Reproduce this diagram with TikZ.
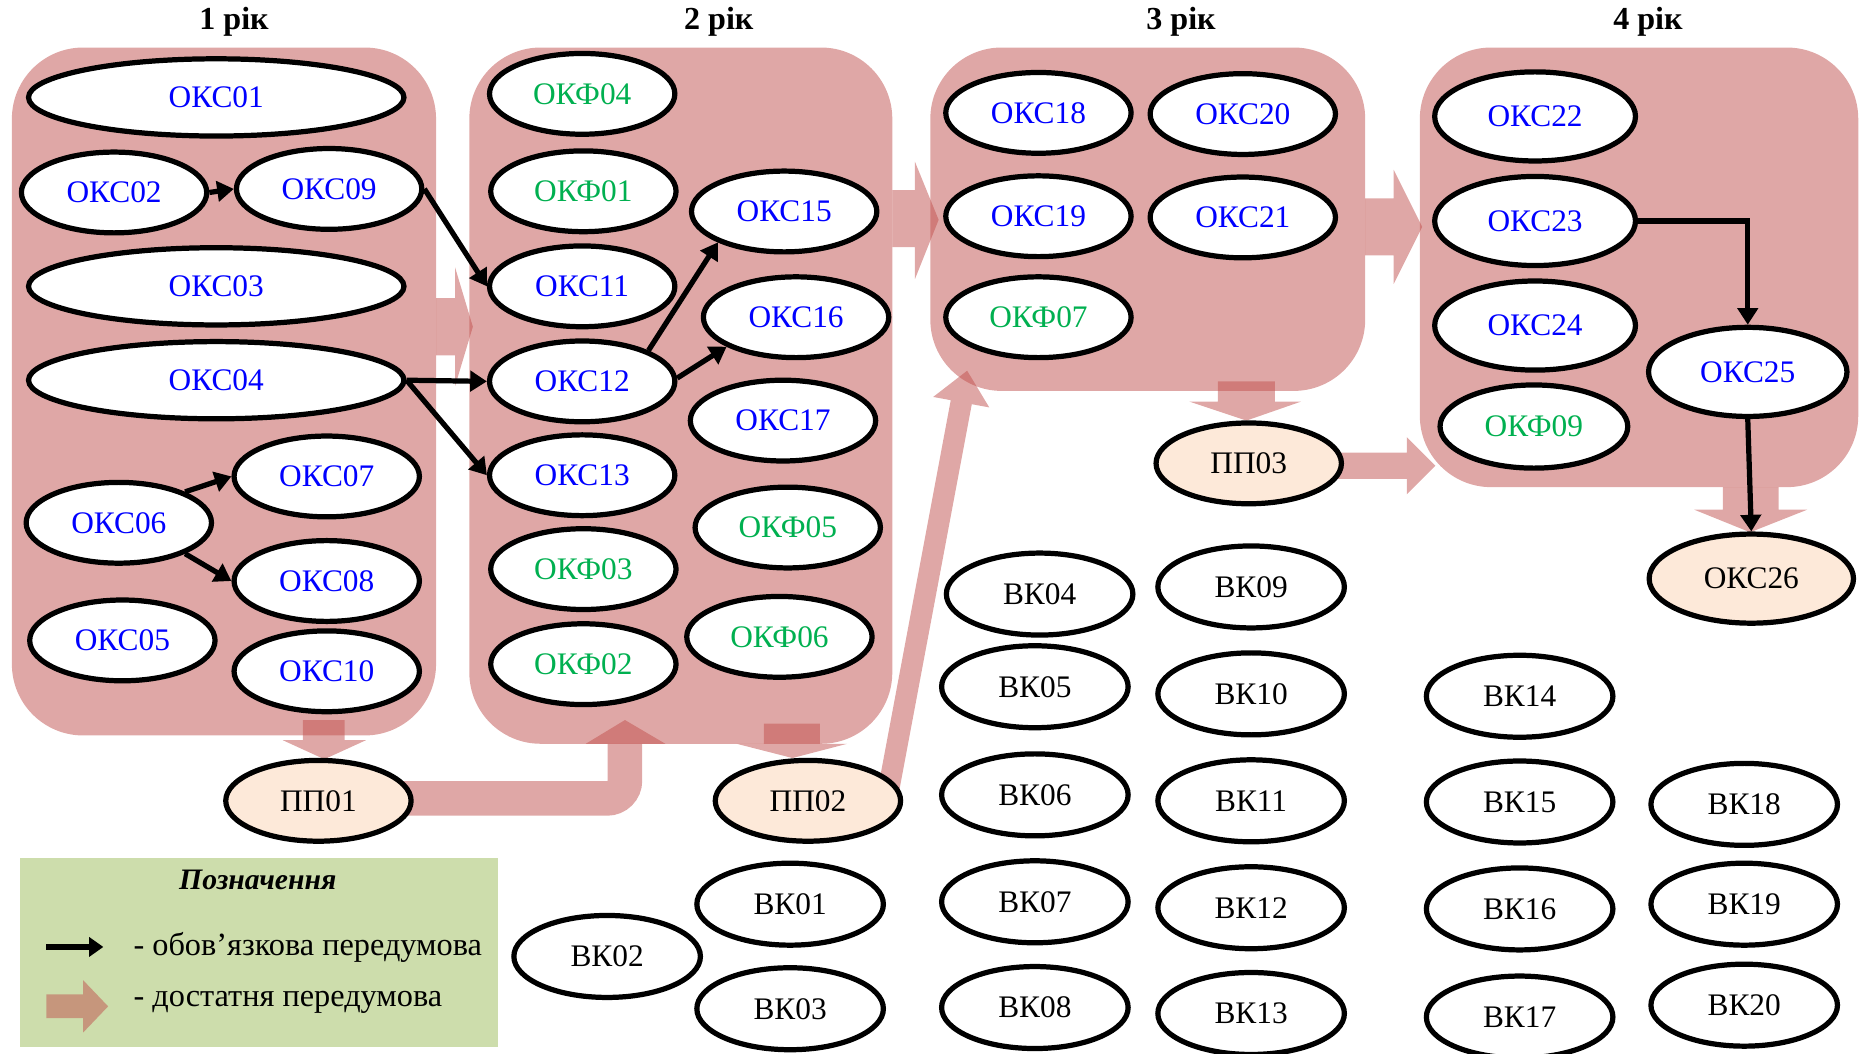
\documentclass[tikz,border=0pt]{standalone}
\usepackage{fontspec}
\setmainfont{Liberation Serif}
\usetikzlibrary{arrows.meta,shapes.geometric}
\definecolor{pc}{RGB}{192,80,77}
\definecolor{peach}{RGB}{253,233,217}
\definecolor{legendg}{RGB}{205,221,172}
\definecolor{okfg}{RGB}{0,176,80}
\definecolor{okcb}{RGB}{0,0,255}
\begin{document}
\begin{tikzpicture}[x=0.5pt,y=-0.5pt,
  el/.style={ellipse, draw=black, line width=2.2pt, fill=white, inner sep=0pt,
    minimum width=78pt, minimum height=34pt, font=\fontsize{13.2}{15}\selectfont},
  wd/.style={el, minimum width=158pt, minimum height=32.5pt},
  bg/.style={el, minimum width=84.5pt, minimum height=37.5pt},
  pp/.style={el, fill=peach},
  okc/.style={text=okcb},
  okf/.style={text=okfg},
  vk/.style={el, minimum width=78.5pt, minimum height=34.5pt},
  arr/.style={line width=2.2pt, -{Triangle[length=7pt,width=8.5pt]}},
  yearbox/.style={fill=pc, fill opacity=0.5, rounded corners=30pt},
  parr/.style={fill=pc, fill opacity=0.5},
  title/.style={font=\fontsize{13.5}{16}\selectfont\bfseries, inner sep=0pt},
  ltext/.style={font=\fontsize{13.6}{16}\selectfont, inner sep=0pt, anchor=west}
]
\useasboundingbox (0,0) rectangle (1568,887);

% year titles
\node[title] (t1) at (197,18) {1 рік};
\node[title] (t2) at (605,18) {2 рік};
\node[title] (t3) at (994,18) {3 рік};
\node[title] (t4) at (1387,18) {4 рік};

% year boxes
\fill[yearbox] (10,40) rectangle (367,619);
\fill[yearbox] (395,40) rectangle (751,626);
\fill[yearbox] (783,40) rectangle (1149,329);
\fill[yearbox] (1195,40) rectangle (1564,410);

% sufficient-prerequisite block arrows
\fill[parr] (367,251) -- (383,251) -- (383,225) -- (398,275) -- (383,325) -- (383,299) -- (367,299) -- cycle;
\fill[parr] (751,160) -- (770,160) -- (770,136) -- (790,185) -- (770,235) -- (770,208) -- (751,208) -- cycle;
\fill[parr] (1149,167) -- (1173,167) -- (1173,143) -- (1197,191) -- (1173,239) -- (1173,215) -- (1149,215) -- cycle;
\fill[parr] (255,606) -- (290,606) -- (290,623) -- (308,623) -- (273,639) -- (238,623) -- (255,623) -- cycle;
\fill[parr] (643,609) -- (690,609) -- (690,626) -- (713,626) -- (667,638) -- (620,626) -- (643,626) -- cycle;
\fill[parr] (1025,321) -- (1073,321) -- (1073,338) -- (1095,338) -- (1049,354) -- (1001,338) -- (1025,338) -- cycle;
\fill[parr] (1450,410) -- (1497,410) -- (1497,429) -- (1521,429) -- (1473,448) -- (1426,429) -- (1450,429) -- cycle;
\draw[pc, draw opacity=0.5, line width=14.5pt, rounded corners=7.5pt] (330,672) -- (526,672) -- (526,626);
\fill[parr] (493,626) -- (560,626) -- (526,606) -- cycle;
\fill[parr] (736.2,678.3) -- (800.2,336.8) -- (785.4,334.1) -- (814,312) -- (832.6,342.9) -- (817.9,340.2) -- (753.8,681.7) -- cycle;
\fill[parr] (1120,381) -- (1184,381) -- (1184,368) -- (1208,392) -- (1184,416) -- (1184,403) -- (1120,403) -- cycle;

% year 1
\node[wd,okc] (okc01) at (182,82) {ОКС01};
\node[el,okc] (okc02) at (96,162) {ОКС02};
\node[el,okc] (okc09) at (277,159) {ОКС09};
\node[wd,okc] (okc03) at (182,241) {ОКС03};
\node[wd,okc] (okc04) at (182,320) {ОКС04};
\node[el,okc] (okc07) at (275,401) {ОКС07};
\node[el,okc] (okc06) at (100,440) {ОКС06};
\node[el,okc] (okc08) at (275,489) {ОКС08};
\node[el,okc] (okc05) at (103,539) {ОКС05};
\node[el,okc] (okc10) at (275,565) {ОКС10};

% year 2
\node[el,okf] (okf04) at (490,79) {ОКФ04};
\node[el,okf] (okf01) at (491,161) {ОКФ01};
\node[el,okc] (okc15) at (660,178) {ОКС15};
\node[el,okc] (okc11) at (490,241) {ОКС11};
\node[el,okc] (okc16) at (670,267) {ОКС16};
\node[el,okc] (okc12) at (490,321) {ОКС12};
\node[el,okc] (okc17) at (659,354) {ОКС17};
\node[el,okc] (okc13) at (490,400) {ОКС13};
\node[el,okf] (okf05) at (663,444) {ОКФ05};
\node[el,okf] (okf03) at (491,479) {ОКФ03};
\node[el,okf] (okf06) at (656,536) {ОКФ06};
\node[el,okf] (okf02) at (491,559) {ОКФ02};

% year 3
\node[el,okc] (okc18) at (874,95) {ОКС18};
\node[el,okc] (okc20) at (1046,96) {ОКС20};
\node[el,okc] (okc19) at (874,182) {ОКС19};
\node[el,okc] (okc21) at (1046,183) {ОКС21};
\node[el,okf] (okf07) at (874,267) {ОКФ07};

% year 4
\node[bg,okc] (okc22) at (1292,98) {ОКС22};
\node[bg,okc] (okc23) at (1292,186) {ОКС23};
\node[bg,okc] (okc24) at (1292,274) {ОКС24};
\node[el,okf,minimum width=79pt,minimum height=35pt] (okf09) at (1291,359) {ОКФ09};
\node[bg,okc,minimum width=83.5pt] (okc25) at (1471,313) {ОКС25};
\node[pp,minimum width=86pt,minimum height=37.5pt] (okc26) at (1474,487) {ОКС26};

% practices
\node[pp] (pp01) at (268,674) {ПП01};
\node[pp] (pp02) at (680,674) {ПП02};
\node[pp] (pp03) at (1051,390) {ПП03};

% electives
\node[vk] (vk01) at (665,761) {ВК01};
\node[vk] (vk02) at (511,805) {ВК02};
\node[vk] (vk03) at (665,849) {ВК03};
\node[vk] (vk04) at (875,500) {ВК04};
\node[vk] (vk05) at (871,578) {ВК05};
\node[vk] (vk06) at (871,669) {ВК06};
\node[vk] (vk07) at (871,759) {ВК07};
\node[vk] (vk08) at (871,848) {ВК08};
\node[vk] (vk09) at (1053,494) {ВК09};
\node[vk] (vk10) at (1053,584) {ВК10};
\node[vk] (vk11) at (1053,674) {ВК11};
\node[vk] (vk12) at (1053,764) {ВК12};
\node[vk] (vk13) at (1053,853) {ВК13};
\node[vk] (vk14) at (1279,586) {ВК14};
\node[vk] (vk15) at (1279,675) {ВК15};
\node[vk] (vk16) at (1279,765) {ВК16};
\node[vk] (vk17) at (1279,856) {ВК17};
\node[vk] (vk18) at (1468,677) {ВК18};
\node[vk] (vk19) at (1468,761) {ВК19};
\node[vk] (vk20) at (1468,846) {ВК20};

% mandatory prerequisites
\draw[arr] (okc02.east) -- (okc09.west);
\draw[arr] (okc09.east) -- (okc11.west);
\draw[arr] (okc04.east) -- (okc12.west);
\draw[arr] (okc04.east) -- (okc13.west);
\draw[arr] (okc12.25) -- (okc15.205);
\draw[arr] (okc12.2) -- (okc16.203);
\draw[arr] (okc06.25) -- (okc07.west);
\draw[arr] (okc06.-25) -- (okc08.west);
\draw[arr] (okc23.east) -| (okc25.north);
\draw[arr] (okc25.south) -- (okc26.north);

% legend
\fill[legendg] (17,722) rectangle (419,881);
\node[font=\fontsize{12.5}{15}\selectfont\bfseries\itshape, inner sep=0pt] (lt) at (217,741) {Позначення};
\coordinate (la1) at (39,797);
\coordinate (la2) at (87,797);
\draw[arr, line width=2.3pt, -{Triangle[length=6pt,width=8pt]}] (la1) -- (la2);
\fill[parr] (39,837) -- (70,837) -- (70,825) -- (91,847) -- (70,869) -- (70,857) -- (39,857) -- cycle;
\node[ltext] (l1) at (112,797) {- обов’язкова передумова};
\node[ltext] (l2) at (112,844) {- достатня передумова};
\end{tikzpicture}
\end{document}
